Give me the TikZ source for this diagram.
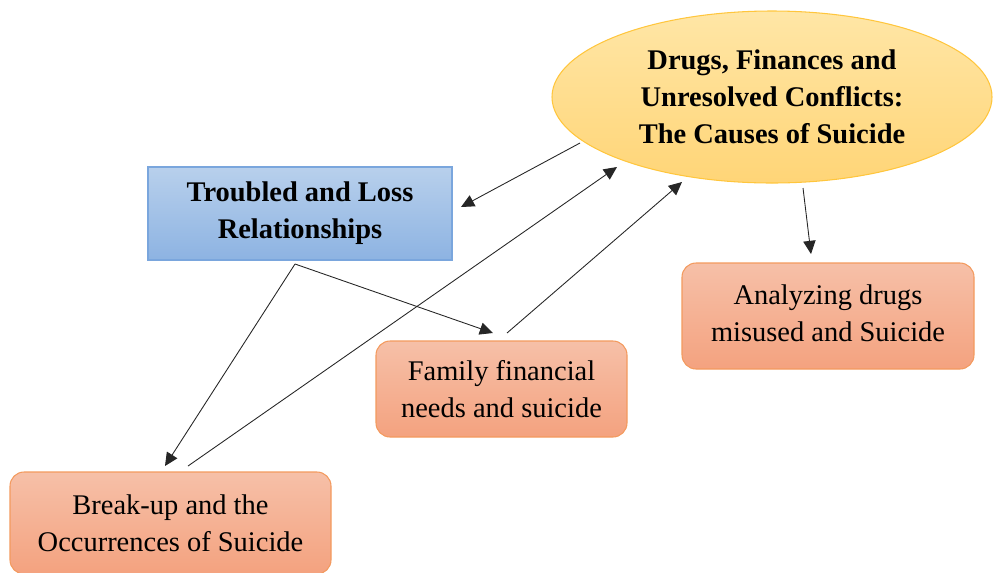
\documentclass[tikz,border=0pt]{standalone}
\usepackage{fontspec}
\setmainfont{Liberation Serif}
\usetikzlibrary{shapes.geometric,arrows.meta}

\definecolor{ellTop}{HTML}{FFE6A6}
\definecolor{ellBot}{HTML}{FFD577}
\definecolor{ellLine}{HTML}{FFC63D}
\definecolor{blueTop}{HTML}{B8D0EC}
\definecolor{blueBot}{HTML}{8DB3E2}
\definecolor{blueLine}{HTML}{7AA6DD}
\definecolor{salTop}{HTML}{F6C0A8}
\definecolor{salBot}{HTML}{F4A27F}
\definecolor{salLine}{HTML}{F39A5E}

\tikzset{
  causebox/.style={draw=ellLine, line width=0.6pt, ellipse, top color=ellTop, bottom color=ellBot,
    inner sep=0pt, minimum width=440*0.02cm, minimum height=172*0.02cm,
    align=center, font=\fontsize{16.2pt}{21pt}\selectfont\bfseries},
  themebox/.style={draw=blueLine, line width=0.6pt, rectangle, top color=blueTop, bottom color=blueBot,
    inner sep=0pt, align=center, font=\fontsize{16.2pt}{21pt}\selectfont\bfseries},
  subbox/.style={draw=salLine, line width=0.6pt, rectangle, rounded corners=8pt,
    top color=salTop, bottom color=salBot, inner sep=0pt, align=center,
    font=\fontsize{16.2pt}{21pt}\selectfont},
  link/.style={draw=black!85, line width=0.5pt, -{Triangle[length=7.5pt,width=7pt]}}
}

\begin{document}
\begin{tikzpicture}[x=0.02cm, y=-0.02cm]
  \useasboundingbox (0,0) rectangle (993,572);

  % main cause and theme
  \node[causebox] (causes) at (772,97) {Drugs, Finances and\\Unresolved Conflicts:\\The Causes of Suicide};
  \node[themebox, minimum width=304*0.02cm, minimum height=93*0.02cm] (loss) at (300,213.5)
    {Troubled and Loss\\Relationships};

  % sub-themes
  \node[subbox, minimum width=292*0.02cm, minimum height=106*0.02cm] (drugs) at (828,316)
    {\raisebox{2pt}{\begin{tabular}{@{}c@{}}Analyzing drugs\\misused and Suicide\end{tabular}}};
  \node[subbox, minimum width=251*0.02cm, minimum height=96*0.02cm] (family) at (501.5,389)
    {Family financial\\needs and suicide};
  \node[subbox, minimum width=321*0.02cm, minimum height=102*0.02cm] (breakup) at (170.5,523)
    {Break-up and the\\Occurrences of Suicide};

  % connector end points near the shapes
  \coordinate (causesW)  at (580,143);
  \coordinate (lossE)    at (461,207);
  \coordinate (lossS)    at (295,264);
  \coordinate (breakIn)  at (165,466);
  \coordinate (breakOut) at (188,466);
  \coordinate (causesSW) at (617,167);
  \coordinate (famIn)    at (493,333);
  \coordinate (famOut)   at (507,333);
  \coordinate (causesS)  at (682,182);
  \coordinate (causesB)  at (803,188);
  \coordinate (drugsIn)  at (811,254);

  % connectors
  \draw[link] (causesW) -- (lossE);
  \draw[link] (lossS) -- (breakIn);
  \draw[link] (lossS) -- (famIn);
  \draw[link] (breakOut) -- (causesSW);
  \draw[link] (famOut) -- (causesS);
  \draw[link] (causesB) -- (drugsIn);
\end{tikzpicture}
\end{document}
